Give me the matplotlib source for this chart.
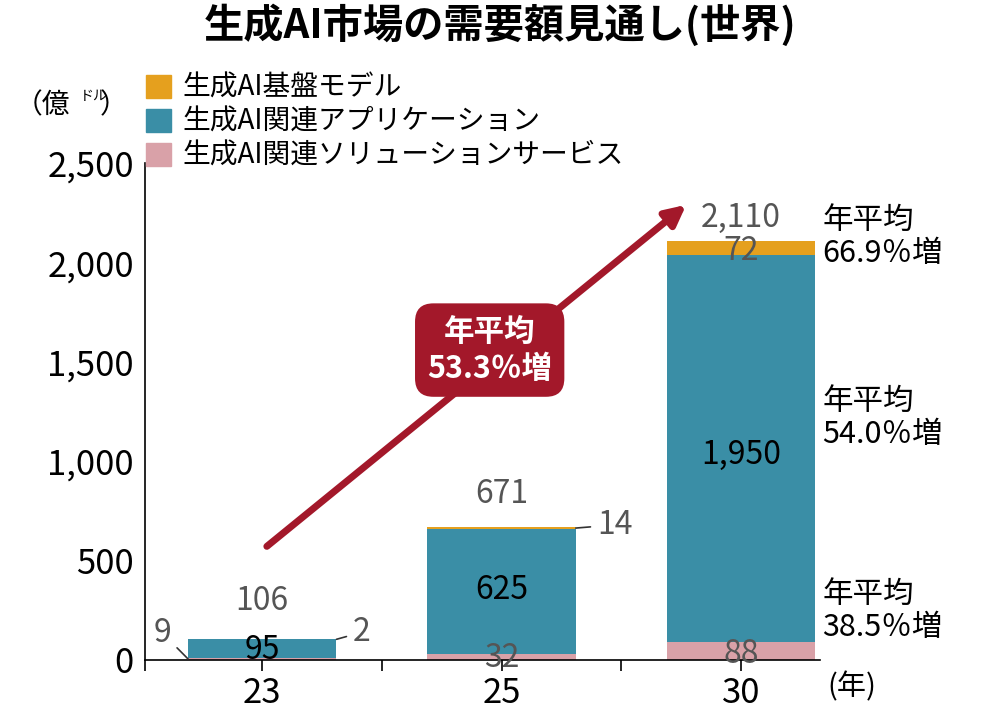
import matplotlib

matplotlib.use("Agg")
from matplotlib import pyplot as plt
from matplotlib.patches import Patch

plt.rcParams["font.family"] = "Noto Sans CJK JP"

years = ["23", "25", "30"]
solutions = [9, 32, 88]
applications = [95, 625, 1950]
base_models = [2, 14, 72]
totals = [106, 671, 2110]
y_ticks = [0, 500, 1000, 1500, 2000, 2500]

C_BASE = "#E5A01E"
C_APP = "#3A8EA6"
C_SOL = "#D9A1A8"
C_RED = "#A3182A"
GRAY = "#555555"

fig = plt.figure(figsize=(10, 7.25), dpi=100)
ax = fig.add_axes([0.145, 0.0897, 0.675, 0.685])
x = range(len(years))
w = 0.62
ax.bar(x, solutions, w, color=C_SOL)
ax.bar(x, applications, w, bottom=solutions, color=C_APP)
bottoms = [s + a for s, a in zip(solutions, applications)]
ax.bar(x, base_models, w, bottom=bottoms, color=C_BASE)

ax.set_xlim(-0.49, 2.33)
ax.set_ylim(0, 2500)
ax.set_yticks(y_ticks)
ax.set_yticklabels([f"{v:,}" for v in y_ticks], fontsize=25)
ax.set_xticks(list(x))
ax.set_xticklabels(years, fontsize=25)
ax.tick_params(axis="y", length=0, pad=8)
ax.tick_params(axis="x", length=8, direction="out", width=1.2)
for s in ("top", "right"):
    ax.spines[s].set_visible(False)
for s in ("left", "bottom"):
    ax.spines[s].set_linewidth(1.2)
ax.set_xticks([-0.49, 0.5, 1.5], minor=True)
ax.tick_params(axis="x", which="minor", length=8, width=1.2)

fs = 23
# totals and segment labels
ax.text(0, 250, f"{totals[0]:,}", ha="center", fontsize=fs, color=GRAY)
ax.text(1, 790, f"{totals[1]:,}", ha="center", fontsize=fs, color=GRAY)
ax.text(2, 2180, f"{totals[2]:,}", ha="center", fontsize=fs, color=GRAY)
ax.text(0, 50, f"{applications[0]}", ha="center", va="center", fontsize=fs)
ax.text(1, 350, f"{applications[1]}", ha="center", va="center", fontsize=fs)
ax.text(2, 1030, f"{applications[2]:,}", ha="center", va="center", fontsize=fs)
ax.text(1, 10, f"{solutions[1]}", ha="center", va="center", fontsize=fs, color=GRAY)
ax.text(2, 30, f"{solutions[2]}", ha="center", va="center", fontsize=fs, color=GRAY)
ax.text(2, 2060, f"{base_models[2]}", ha="center", va="center", fontsize=fs, color=GRAY)

# leader labels
lead = dict(arrowstyle="-", color="#333333", lw=1.2, shrinkA=3, shrinkB=0)
ax.annotate(f"{solutions[0]}", xy=(-0.31, 5), xytext=(-0.38, 135), fontsize=fs,
            color=GRAY, ha="right", va="center", arrowprops=lead)
ax.annotate(f"{base_models[0]}", xy=(0.31, 104), xytext=(0.38, 140), fontsize=fs,
            color=GRAY, ha="left", va="center", arrowprops=lead)
ax.annotate(f"{base_models[1]}", xy=(1.31, 664), xytext=(1.4, 680), fontsize=fs,
            color=GRAY, ha="left", va="center", arrowprops=lead)

# growth arrow
ax.annotate("", xy=(1.78, 2300), xytext=(0.01, 563),
            arrowprops=dict(arrowstyle="-|>,head_length=1.2,head_width=0.6",
                            color=C_RED, lw=5))
ax.text(0.95, 1560, "年平均\n53.3％増", ha="center", va="center", fontsize=22,
        color="white", weight="bold", linespacing=1.2,
        bbox=dict(boxstyle="round,pad=0.4,rounding_size=0.6", fc=C_RED, ec="none"))

# CAGR notes on the right
for y, txt in [(2290, "年平均\n66.9％増"), (1380, "年平均\n54.0％増"), (410, "年平均\n38.5％増")]:
    ax.text(2.34, y, txt, ha="left", va="top", fontsize=22, linespacing=1.1, clip_on=False)

ax.text(2.36, -60, "(年)", ha="left", va="top", fontsize=21, clip_on=False)

fig.text(0.5, 0.965, "生成AI市場の需要額見通し(世界)", ha="center", va="center",
         fontsize=29, weight="bold")
fig.text(0.015, 0.855, "（億", ha="left", va="center", fontsize=20)
fig.text(0.080, 0.868, "ドル", ha="left", va="center", fontsize=10)
fig.text(0.100, 0.855, "）", ha="left", va="center", fontsize=20)

handles = [Patch(color=C_BASE, label="生成AI基盤モデル"),
           Patch(color=C_APP, label="生成AI関連アプリケーション"),
           Patch(color=C_SOL, label="生成AI関連ソリューションサービス")]
fig.legend(handles=handles, loc="upper left", bbox_to_anchor=(0.135, 0.915),
           frameon=False, fontsize=20, handlelength=0.9, handleheight=0.9,
           handletextpad=0.4, labelspacing=0.15, borderaxespad=0)

fig.savefig("out.png", dpi=100)
plt.close(fig)
